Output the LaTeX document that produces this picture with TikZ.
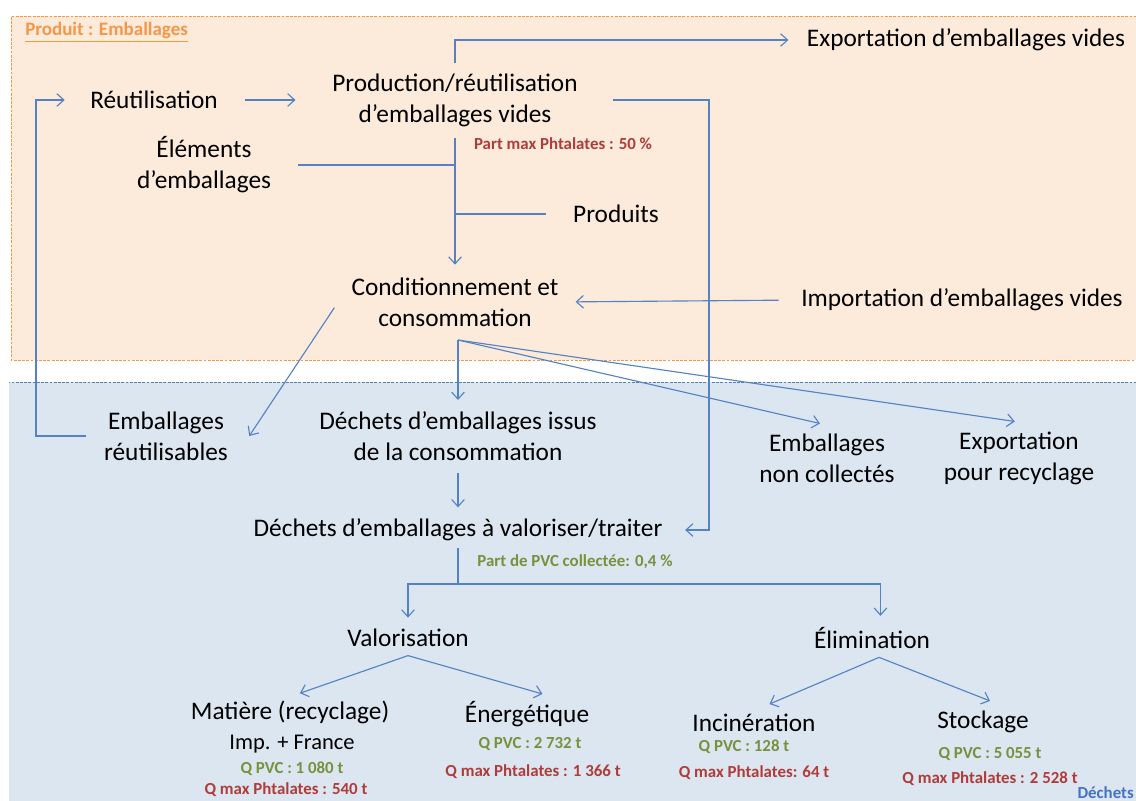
\documentclass[tikz,border=0pt]{standalone}
\usepackage{fontspec}
\setmainfont{Carlito}
\usepackage{xcolor}
\usetikzlibrary{arrows.meta,positioning}
\definecolor{prodbg}{RGB}{252,234,218}
\definecolor{prodline}{RGB}{247,150,70}
\definecolor{dechbg}{RGB}{220,230,241}
\definecolor{dechline}{RGB}{79,129,189}
\definecolor{flowblue}{RGB}{84,130,196}
\definecolor{phtalred}{RGB}{176,60,58}
\definecolor{pvcgreen}{RGB}{118,146,60}
\definecolor{titleblue}{RGB}{68,114,196}

\begin{document}
\begin{tikzpicture}[
  x=0.025cm, y=-0.025cm,
  stage/.style={align=center, inner sep=0pt, font=\fontsize{18}{22}\selectfont},
  sub/.style={inner sep=0pt, font=\fontsize{16}{20}\selectfont},
  pvc/.style={inner sep=0pt, text=pvcgreen, font=\fontsize{12}{14}\selectfont\bfseries},
  phtal/.style={inner sep=0pt, text=phtalred, font=\fontsize{12}{14}\selectfont\bfseries},
  flow/.style={draw=flowblue, line width=0.8pt},
  >={Straight Barb[length=5pt,width=9pt]}
]
  \useasboundingbox (0,0) rectangle (1136,801);
  \clip (0,0) rectangle (1136,801);

  % zones
  \fill[prodbg] (11,16) rectangle (1145,360);
  \draw[prodline, line width=0.6pt, dash pattern=on 2pt off 1pt]
    (1145,16) -- (11,16) -- (11,360) -- (1145,360);
  \fill[dechbg] (9,382) rectangle (1145,810);
  \draw[dechline, line width=0.6pt, dash pattern=on 2pt off 1pt]
    (1145,382) -- (9,382);
  \node[anchor=west, inner sep=0pt, text=prodline,
    font=\fontsize{13.5}{15}\selectfont\bfseries] (prodtitle) at (25,32)
    {\underline{Produit : Emballages}};
  \node[anchor=south east, inner sep=0pt, text=titleblue,
    font=\fontsize{12}{14}\selectfont\bfseries] (dechtitle) at (1134,799) {Déchets};

  % product side
  \node[stage] (reut) at (154,100) {Réutilisation};
  \node[stage] (prod) at (455,100) {Production/réutilisation\\d’emballages vides};
  \node[phtal] (partphtal) at (563,144) {Part max Phtalates : 50 \%};
  \node[stage] (elem) at (204,165) {Éléments\\d’emballages};
  \node[stage] (produits) at (616,214) {Produits};
  \node[stage] (cond) at (455,302) {Conditionnement et\\consommation};
  \node[stage] (import) at (962,300) {Importation d’emballages vides};
  \node[stage] (export) at (966,40) {Exportation d’emballages vides};

  % waste side
  \node[stage] (embreu) at (166,436) {Emballages\\réutilisables};
  \node[stage] (dechiss) at (458,436) {Déchets d’emballages issus\\de la consommation};
  \node[stage] (noncol) at (827,458) {Emballages\\non collectés};
  \node[stage] (exprec) at (1019,458) {Exportation\\pour recyclage};
  \node[stage] (dechval) at (458,530) {Déchets d’emballages à valoriser/traiter};
  \node[pvc] (partpvc) at (575,562) {Part de PVC collectée: 0,4 \%};
  \node[stage] (valo) at (408,638) {Valorisation};
  \node[stage] (elim) at (872,638) {Élimination};

  \node[stage] (matiere) at (290,712) {Matière (recyclage)};
  \node[sub] (impfr) at (292,744) {Imp. + France};
  \node[pvc] (matpvc) at (292,769) {Q PVC : 1 080 t};
  \node[phtal] (matphtal) at (286,790) {Q max Phtalates : 540 t};
  \node[stage] (energ) at (527,714) {Énergétique};
  \node[pvc] (enpvc) at (530,744) {Q PVC : 2 732 t};
  \node[phtal] (enphtal) at (533,772) {Q max Phtalates : 1 366 t};
  \node[stage] (incin) at (754,723) {Incinération};
  \node[pvc] (incpvc) at (744,747) {Q PVC : 128 t};
  \node[phtal] (incphtal) at (754,773) {Q max Phtalates: 64 t};
  \node[stage] (stock) at (983,722) {Stockage};
  \node[pvc] (stkpvc) at (990,754) {Q PVC : 5 055 t};
  \node[phtal] (stkphtal) at (990,779) {Q max Phtalates : 2 528 t};

  % flows, product side
  \draw[flow,->] ([xshift=-13pt]embreu.west) -- (36,436) |- ([xshift=-18pt]reut.west);
  \draw[flow,->, shorten <=19pt, shorten >=26pt] (reut) -- (prod);
  \draw[flow,->] ([yshift=7pt]prod.north) |- ([xshift=-13pt]export.west);
  \draw[flow,->] ([xshift=25pt]prod.east) -- (709,100) |- ([xshift=16pt]dechval.east);
  \draw[flow,->] ([yshift=-8pt]prod.south) -- ([yshift=9pt]cond.north);
  \draw[flow] ([xshift=19pt]elem.east) -- (elem.east -| prod.south);
  \draw[flow] ([xshift=-19pt]produits.west) -- (produits.west -| prod.south);
  \draw[flow,->, shorten <=16pt, shorten >=12pt] (import.west) -- (cond.east);
  \draw[flow,->] ([xshift=-12pt,yshift=-4pt]cond.west) -- ([xshift=15pt]embreu.east);

  % flows, waste side
  \coordinate (fork) at (458,340);
  \draw[flow,->] (fork) -- ([yshift=8pt]dechiss.north);
  \draw[flow,->] (fork) -- ([xshift=-5pt,yshift=7pt]noncol.north);
  \draw[flow,->] (fork) -- ([xshift=-3pt,yshift=7pt]exprec.north);
  \draw[flow,->] ([yshift=-9pt]dechiss.south) -- ([yshift=8pt]dechval.north);
  \coordinate (branch) at (458,584);
  \draw[flow, line width=1.3pt] ([yshift=-5pt]dechval.south) -- (branch);
  \draw[flow,->] (branch) -| ([yshift=8pt]valo.north);
  \draw[flow,->] (branch) -| ([xshift=6pt,yshift=8pt]elim.north);
  \draw[flow,->] ([yshift=-6pt]valo.south) -- ([xshift=7pt,yshift=5pt]matiere.north);
  \draw[flow,->] ([yshift=-6pt]valo.south) -- ([xshift=11pt,yshift=5pt]energ.north);
  \draw[flow,->] ([xshift=5pt,yshift=-6pt]elim.south) -- ([xshift=11pt,yshift=7pt]incin.north);
  \draw[flow,->] ([xshift=5pt,yshift=-6pt]elim.south) -- ([xshift=5pt,yshift=7pt]stock.north);
\end{tikzpicture}
\end{document}
